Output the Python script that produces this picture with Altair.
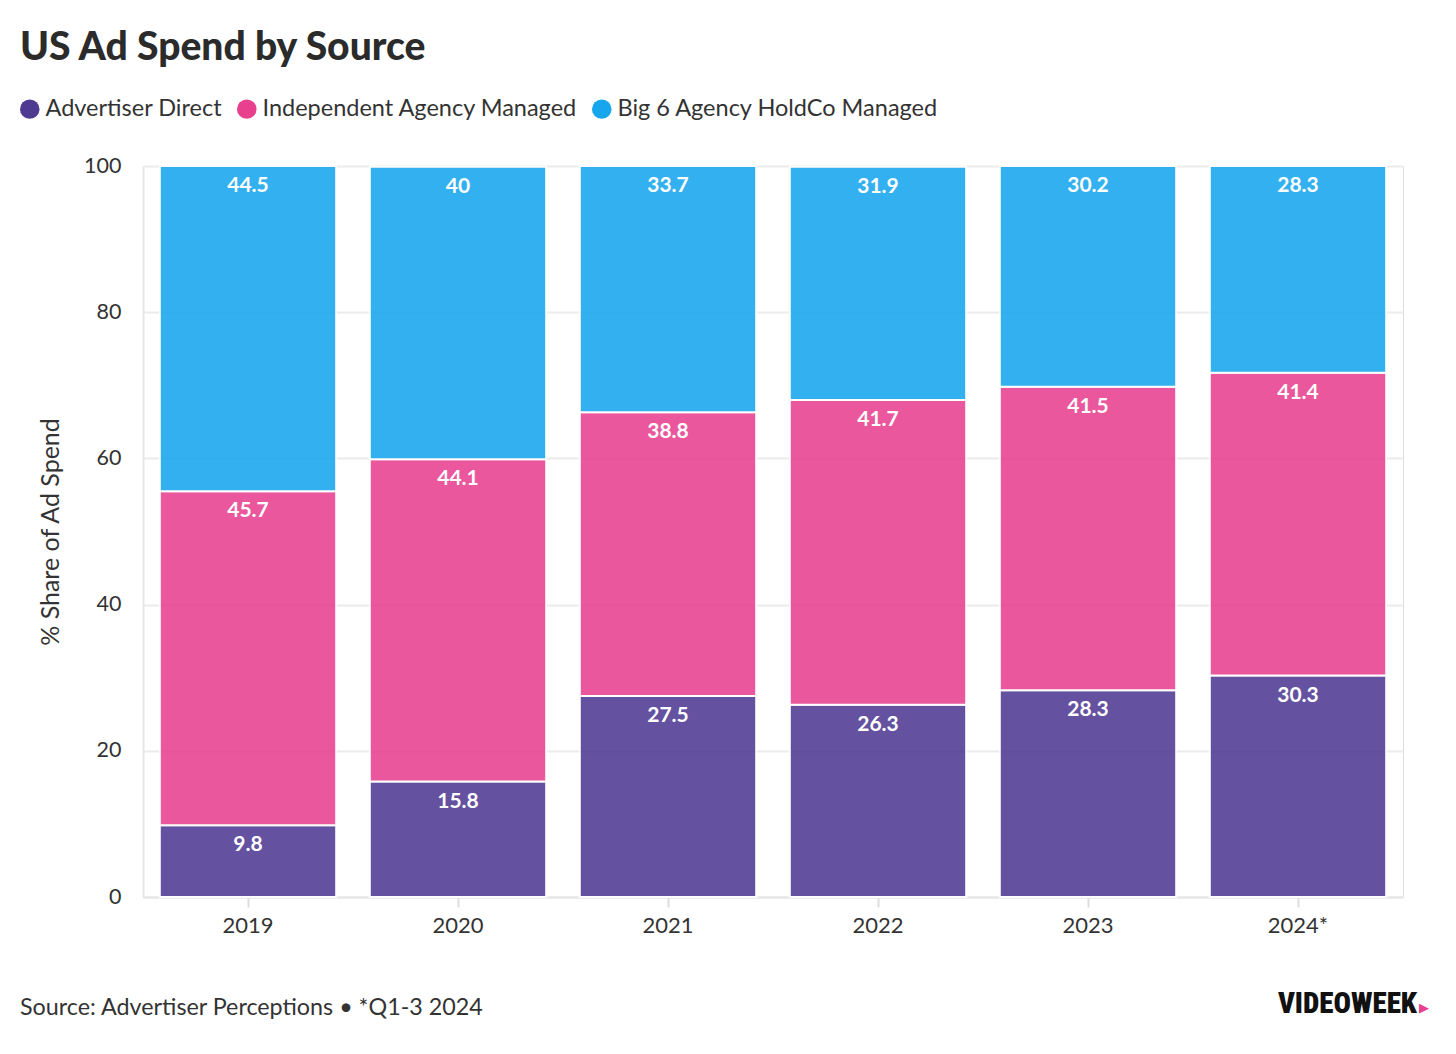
import altair as alt
import pandas as pd

years = ["2019", "2020", "2021", "2022", "2023", "2024*"]
series = ["Advertiser Direct", "Independent Agency Managed", "Big 6 Agency HoldCo Managed"]
colors = ["#4f3a92", "#e8408f", "#17a6ee"]
advertiser_direct = [9.8, 15.8, 27.5, 26.3, 28.3, 30.3]
independent = [45.7, 44.1, 38.8, 41.7, 41.5, 41.4]
big6 = [44.5, 40, 33.7, 31.9, 30.2, 28.3]
y_ticks = [0, 20, 40, 60, 80, 100]

title_text = "US Ad Spend by Source"
footer_text = "Source: Advertiser Perceptions • *Q1-3 2024"
logo_text = "VIDEOWEEK"
y_title = "% Share of Ad Spend"

rows = []
for i, yr in enumerate(years):
    base = 0.0
    for s, vals in zip(series, [advertiser_direct, independent, big6]):
        v = vals[i]
        rows.append({"year": yr, "series": s, "value": v, "start": base,
                     "end": base + v, "order": series.index(s), "label": f"{v:g}"})
        base += v
df = pd.DataFrame(rows)

FONT = "Lato"
W, H = 1260, 731

x_enc = alt.X("year:N", sort=years, title=None,
              scale=alt.Scale(paddingInner=0.16, paddingOuter=0.08),
              axis=alt.Axis(labelAngle=0, labelFontSize=22, labelColor="#333333",
                            labelFont=FONT, labelPadding=8, tickSize=10,
                            tickColor="#dddddd", tickWidth=2, domainColor="#e6e6e6",
                            domainWidth=2, grid=False))
y_enc = alt.Y("start:Q", title=y_title,
              scale=alt.Scale(domain=[0, 100], nice=False),
              axis=alt.Axis(values=y_ticks, ticks=False, labelFontSize=21.5,
                            labelColor="#333333", labelFont=FONT, labelPadding=22,
                            gridColor="#ebebeb", gridWidth=2, domainColor="#e6e6e6",
                            domainWidth=2, titleFont=FONT, titleFontSize=25,
                            titleFontWeight="normal", titleColor="#333333",
                            titlePadding=20))

bars = alt.Chart(df).mark_bar(opacity=0.88, stroke="white", strokeWidth=2).encode(
    x=x_enc,
    y=y_enc,
    y2="end:Q",
    color=alt.Color("series:N", sort=series,
                    scale=alt.Scale(domain=series, range=colors),
                    legend=alt.Legend(title=None, orient="none", direction="horizontal",
                                      legendX=-125, legendY=-69, symbolType="circle",
                                      symbolSize=380, symbolOpacity=1, symbolStrokeWidth=0,
                                      labelFontSize=23.5, labelFont=FONT,
                                      labelColor="#333333", labelOffset=4,
                                      columnPadding=12, labelLimit=400)),
    order="order:Q",
)

labels = alt.Chart(df).mark_text(color="white", fontWeight="bold", fontSize=21,
                                 font=FONT, baseline="middle", dy=20).encode(
    x=alt.X("year:N", sort=years),
    y=alt.Y("end:Q"),
    text="label:N",
)

title = alt.Chart(pd.DataFrame({"t": [title_text]})).mark_text(
    align="left", baseline="alphabetic", fontSize=39, fontWeight=900, font=FONT,
    color="#2b2b2b").encode(x=alt.value(-123), y=alt.value(-106), text="t:N")

footer = alt.Chart(pd.DataFrame({"t": [footer_text]})).mark_text(
    align="left", baseline="alphabetic", fontSize=23.3, font=FONT,
    color="#333333").encode(x=alt.value(-123), y=alt.value(849), text="t:N")

logo = alt.Chart(pd.DataFrame({"t": [logo_text]})).mark_text(
    align="right", baseline="alphabetic", fontSize=29, fontWeight=900,
    font="Roboto Condensed, DejaVu Sans Condensed, Liberation Sans Narrow, sans-serif",
    color="#111111").encode(x=alt.value(1274), y=alt.value(847), text="t:N")

tri = alt.Chart(pd.DataFrame({"t": ["▶"]})).mark_text(
    align="left", baseline="middle", fontSize=13, font="DejaVu Sans",
    color="#e8408f").encode(x=alt.value(1276), y=alt.value(842), text="t:N")

chart = alt.layer(bars, labels, title, footer, logo, tri).properties(
    width=W, height=H,
    autosize=alt.AutoSizeParams(type="none"),
    padding={"left": 135, "top": 158, "right": 45, "bottom": 149},
).configure_view(stroke=None).configure(background="white")

chart.save("out.html", embed_options={"renderer": "svg", "actions": False})
